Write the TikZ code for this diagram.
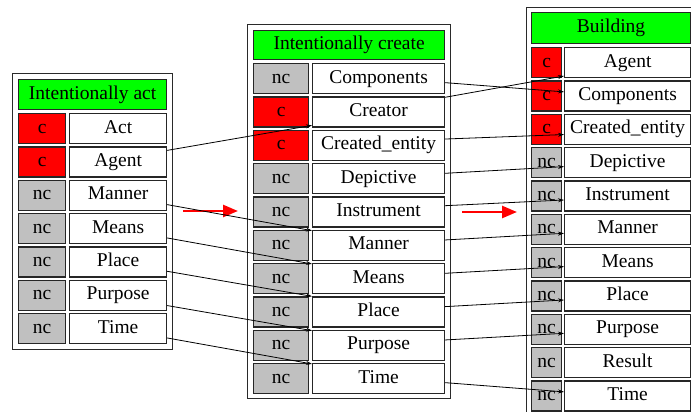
\documentclass[tikz,border=0pt]{standalone}
\usepackage{fontspec}
\setmainfont{Liberation Serif}
\usetikzlibrary{calc,arrows.meta}

\definecolor{hdrgreen}{HTML}{00FF00}
\definecolor{corered}{HTML}{FF0000}
\definecolor{optgrey}{HTML}{C0C0C0}
\definecolor{rimgrey}{HTML}{2A2A2A}

\tikzset{
  cellbase/.style={draw=black!85, line width=1.2pt, anchor=north west,
    inner sep=0pt, minimum height=30pt, text height=13pt, text depth=4pt,
    font=\fontsize{19.5}{21}\selectfont},
  headcell/.style={cellbase, fill=hdrgreen},
  keyc/.style={cellbase, fill=corered},
  keync/.style={cellbase, fill=optgrey},
  namecell/.style={cellbase, fill=white},
  tablebox/.style={draw=rimgrey, line width=1pt, fill=white, anchor=north west, inner sep=0pt},
  edge/.style={draw=black, line width=0.8pt, -{Stealth[length=6pt,width=4pt]}},
  flowarrow/.style={draw=red, line width=2.6pt, -{Triangle[length=15pt,width=12pt]}}
}

\begin{document}
\begin{tikzpicture}[x=1pt,y=-1pt]
\useasboundingbox (0,0) rectangle (691,412);

% ---------------- Intentionally act ----------------
\node[tablebox, minimum width=160pt, minimum height=276pt] (actTable) at (12,73) {};
\node[headcell, minimum width=148pt, minimum height=30pt] (actHead) at (18,79) {Intentionally act};
\foreach \k/\t/\n [count=\i from 0] in
  {c/Act/Act, c/Agent/Agent, nc/Manner/Manner, nc/Means/Means,
   nc/Place/Place, nc/Purpose/Purpose, nc/Time/Time} {
  \node[key\k, minimum width=47pt] (lk\n) at (18,{113+33.333*\i}) {\k};
  \node[namecell, minimum width=97pt] (l\n) at (69,{113+33.333*\i}) {\t};
}

% ---------------- Intentionally create ----------------
\node[tablebox, minimum width=203pt, minimum height=374pt] (createTable) at (247,24) {};
\node[headcell, minimum width=191pt, minimum height=29pt] (createHead) at (253,30) {Intentionally create};
\foreach \k/\t/\n [count=\i from 0] in
  {nc/Components/Components, c/Creator/Creator, c/Created\_entity/Entity,
   nc/Depictive/Depictive, nc/Instrument/Instrument, nc/Manner/Manner,
   nc/Means/Means, nc/Place/Place, nc/Purpose/Purpose, nc/Time/Time} {
  \node[key\k, minimum width=55pt] (mk\n) at (253,{63+33.333*\i}) {\k};
  \node[namecell, minimum width=132pt] (m\n) at (312,{63+33.333*\i}) {\t};
}

% ---------------- Building ----------------
\node[tablebox, minimum width=170pt, minimum height=415pt] (buildTable) at (526,7) {};
\node[headcell, minimum width=159pt, minimum height=31pt] (buildHead) at (531,12) {Building};
\foreach \k/\t/\n [count=\i from 0] in
  {c/Agent/Agent, c/Components/Components, c/Created\_entity/Entity,
   nc/Depictive/Depictive, nc/Instrument/Instrument, nc/Manner/Manner,
   nc/Means/Means, nc/Place/Place, nc/Purpose/Purpose, nc/Result/Result,
   nc/Time/Time} {
  \node[key\k, minimum width=30pt] (rk\n) at (531,{47+33.333*\i}) {\k};
  \node[namecell, minimum width=126pt] (r\n) at (564,{47+33.333*\i}) {\t};
}

% ---------------- flow arrows between the frames ----------------
\coordinate (flowA) at (183,211);
\coordinate (flowB) at (238,211);
\coordinate (flowC) at (462,212);
\coordinate (flowD) at (517,212);
\draw[flowarrow] (flowA) -- (flowB);
\draw[flowarrow] (flowC) -- (flowD);

% ---------------- role mappings: act -> create ----------------
\draw[edge] ($(lAgent.north east)!0.13!(lAgent.south east)$)     -- ($(mCreator.north west)!0.93!(mCreator.south west)$);
\draw[edge] ($(lManner.north east)!0.8!(lManner.south east)$)    -- ($(mManner.north west)!0.03!(mManner.south west)$);
\draw[edge] ($(lMeans.north east)!0.8!(lMeans.south east)$)      -- ($(mMeans.north west)!0.03!(mMeans.south west)$);
\draw[edge] ($(lPlace.north east)!0.8!(lPlace.south east)$)      -- ($(mPlace.north west)!0.0!(mPlace.south west)$);
\draw[edge] ($(lPurpose.north east)!0.83!(lPurpose.south east)$) -- ($(mPurpose.north west)!0.03!(mPurpose.south west)$);
\draw[edge] ($(lTime.north east)!0.8!(lTime.south east)$)        -- ($(mTime.north west)!0.03!(mTime.south west)$);

% ---------------- role mappings: create -> building ----------------
\draw[edge] ($(mComponents.north east)!0.63!(mComponents.south east)$) -- ($(rComponents.north west)!0.37!(rComponents.south west)$);
\draw[edge] ($(mCreator.north east)!0.03!(mCreator.south east)$)       -- ($(rAgent.north west)!0.93!(rAgent.south west)$);
\draw[edge] ($(mEntity.north east)!0.3!(mEntity.south east)$)          -- ($(rEntity.north west)!0.67!(rEntity.south west)$);
\draw[edge] ($(mDepictive.north east)!0.33!(mDepictive.south east)$)   -- ($(rDepictive.north west)!0.63!(rDepictive.south west)$);
\draw[edge] ($(mInstrument.north east)!0.3!(mInstrument.south east)$)  -- ($(rInstrument.north west)!0.63!(rInstrument.south west)$);
\draw[edge] ($(mManner.north east)!0.33!(mManner.south east)$)         -- ($(rManner.north west)!0.63!(rManner.south west)$);
\draw[edge] ($(mMeans.north east)!0.33!(mMeans.south east)$)           -- ($(rMeans.north west)!0.63!(rMeans.south west)$);
\draw[edge] ($(mPlace.north east)!0.33!(mPlace.south east)$)           -- ($(rPlace.north west)!0.63!(rPlace.south west)$);
\draw[edge] ($(mPurpose.north east)!0.33!(mPurpose.south east)$)       -- ($(rPurpose.north west)!0.63!(rPurpose.south west)$);
\draw[edge] ($(mTime.north east)!0.63!(mTime.south east)$)             -- ($(rTime.north west)!0.37!(rTime.south west)$);
\end{tikzpicture}
\end{document}
